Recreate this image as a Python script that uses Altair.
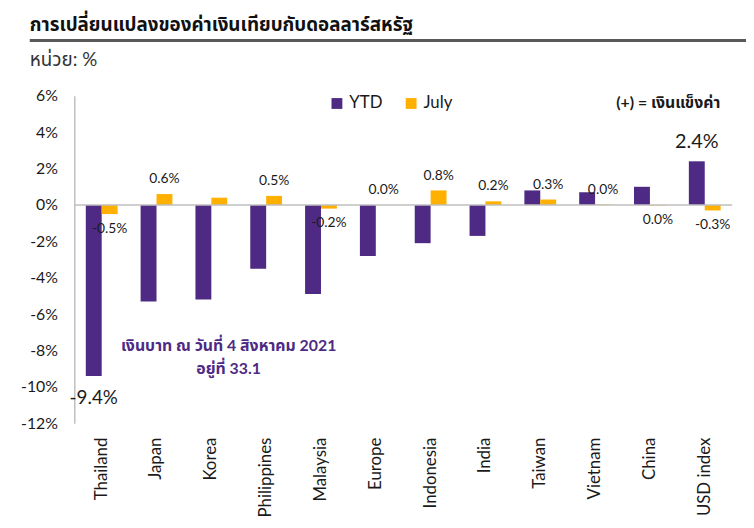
import altair as alt
import pandas as pd

categories = ["Thailand", "Japan", "Korea", "Philippines", "Malaysia", "Europe",
              "Indonesia", "India", "Taiwan", "Vietnam", "China", "USD index"]
ytd = [-9.4, -5.3, -5.2, -3.5, -4.9, -2.8, -2.1, -1.7, 0.8, 0.7, 1.0, 2.4]
july = [-0.5, 0.6, 0.4, 0.5, -0.2, 0.0, 0.8, 0.2, 0.3, 0.03, -0.03, -0.3]
ytd_labels = ["-9.4%", "", "", "", "", "", "", "", "", "", "", "2.4%"]
july_labels = ["-0.5%", "0.6%", "", "0.5%", "-0.2%", "0.0%", "0.8%", "0.2%",
               "0.3%", "0.0%", "0.0%", "-0.3%"]
series = ["YTD", "July"]
colors = ["#4E2A84", "#FFB000"]
y_ticks = [-12, -10, -8, -6, -4, -2, 0, 2, 4, 6]

title_text = "การเปลี่ยนแปลงของค่าเงินเทียบกับดอลลาร์สหรัฐ"
unit_text = "หน่วย: %"
note_text = "(+) = เงินแข็งค่า"
annot_lines = ["เงินบาท ณ วันที่ 4 สิงหาคม 2021", "อยู่ที่ 33.1"]

FONT = "Lato, 'Noto Sans Thai', 'Noto Sans', sans-serif"
PURPLE = colors[0]

rows = []
for i, c in enumerate(categories):
    rows.append({"category": c, "series": "YTD", "value": ytd[i], "label": ytd_labels[i]})
    rows.append({"category": c, "series": "July", "value": july[i], "label": july_labels[i]})
df = pd.DataFrame(rows)

x_enc = alt.X("category:N", sort=categories, title=None,
              scale=alt.Scale(paddingInner=0.42, paddingOuter=0.21),
              axis=alt.Axis(labelAngle=-90, labelFontSize=17, labelFont=FONT,
                            labelColor="#1a1a1a", domain=False, ticks=False,
                            tickSize=0, labelPadding=14, labelOverlap=False))
xoff = alt.XOffset("series:N", sort=series, scale=alt.Scale(domain=series))
y_axis = alt.Axis(values=y_ticks, labelExpr="datum.value + '%'", tickCount=10,
                  labelFontSize=16, labelFont=FONT, labelColor="#1a1a1a",
                  grid=False, ticks=False, tickSize=0, labelPadding=17,
                  labelOverlap=False, labelFlush=False,
                  domainColor="#BFBFBF", domainWidth=1.5)
y_scale = alt.Scale(domain=[-12, 6], nice=False, zero=False)
y_enc = alt.Y("value:Q", title=None, scale=y_scale, axis=y_axis)

bars = alt.Chart(df).mark_bar().encode(
    x=x_enc, xOffset=xoff, y=y_enc,
    color=alt.Color("series:N", sort=series,
                    scale=alt.Scale(domain=series, range=colors),
                    legend=alt.Legend(title=None, orient="none", legendX=257, legendY=-1,
                                      direction="horizontal", symbolType="square",
                                      symbolSize=120, symbolStrokeWidth=0,
                                      labelFontSize=17, labelFont=FONT,
                                      labelColor="#1a1a1a", columnPadding=20,
                                      padding=0))
)

zero = alt.Chart(pd.DataFrame({"value": [0]})).mark_rule(color="#BFBFBF", strokeWidth=1.5).encode(
    y=y_enc
)


def labels(ser, positive, dy, size):
    cond = (alt.datum.series == ser) & (alt.datum.label != "")
    cond = cond & ((alt.datum.value >= 0) if positive else (alt.datum.value < 0))
    return alt.Chart(df).transform_filter(cond).mark_text(
        dy=dy, fontSize=size, font=FONT, color="#1a1a1a", baseline="middle"
    ).encode(x=x_enc, xOffset=xoff, y=y_enc, text="label:N")


july_up = labels("July", True, -15, 14)
july_down = labels("July", False, 15, 14)
ytd_up = labels("YTD", True, -19, 20)
ytd_down = labels("YTD", False, 22, 19)

title = alt.Chart(pd.DataFrame({"t": [title_text]})).mark_text(
    align="left", baseline="middle", fontSize=19, fontWeight="bold", font=FONT, color="#111"
).encode(x=alt.value(-45), y=alt.value(-72), text="t:N")

underline = alt.Chart(pd.DataFrame({"a": [0]})).mark_rule(
    color="#595959", strokeWidth=3
).encode(x=alt.value(-45), x2=alt.value(680), y=alt.value(-56))

unit = alt.Chart(pd.DataFrame({"t": [unit_text]})).mark_text(
    align="left", baseline="middle", fontSize=19, font=FONT, color="#333"
).encode(x=alt.value(-45), y=alt.value(-36), text="t:N")

note = alt.Chart(pd.DataFrame({"t": [note_text]})).mark_text(
    align="right", baseline="middle", fontSize=16, fontWeight="bold", font=FONT, color="#1a1a1a"
).encode(x=alt.value(653), y=alt.value(7), text="t:N")

annot = alt.Chart(pd.DataFrame({"t": [annot_lines]})).mark_text(
    align="center", baseline="middle", fontSize=16, fontWeight="bold", font=FONT,
    color=PURPLE, lineHeight=23
).encode(x=alt.value(156), y=alt.value(253), text="t:N")

chart = alt.layer(
    bars, zero, july_up, july_down, ytd_up, ytd_down,
    title, underline, unit, note, annot
).properties(
    width=665, height=331,
    autosize=alt.AutoSizeParams(type="none"),
    padding={"left": 67, "top": 86, "right": 14, "bottom": 95},
).configure_view(stroke=None).configure_axisY(labelOverlap=False)

chart.save("out.html", embed_options={"renderer": "svg", "actions": False})
